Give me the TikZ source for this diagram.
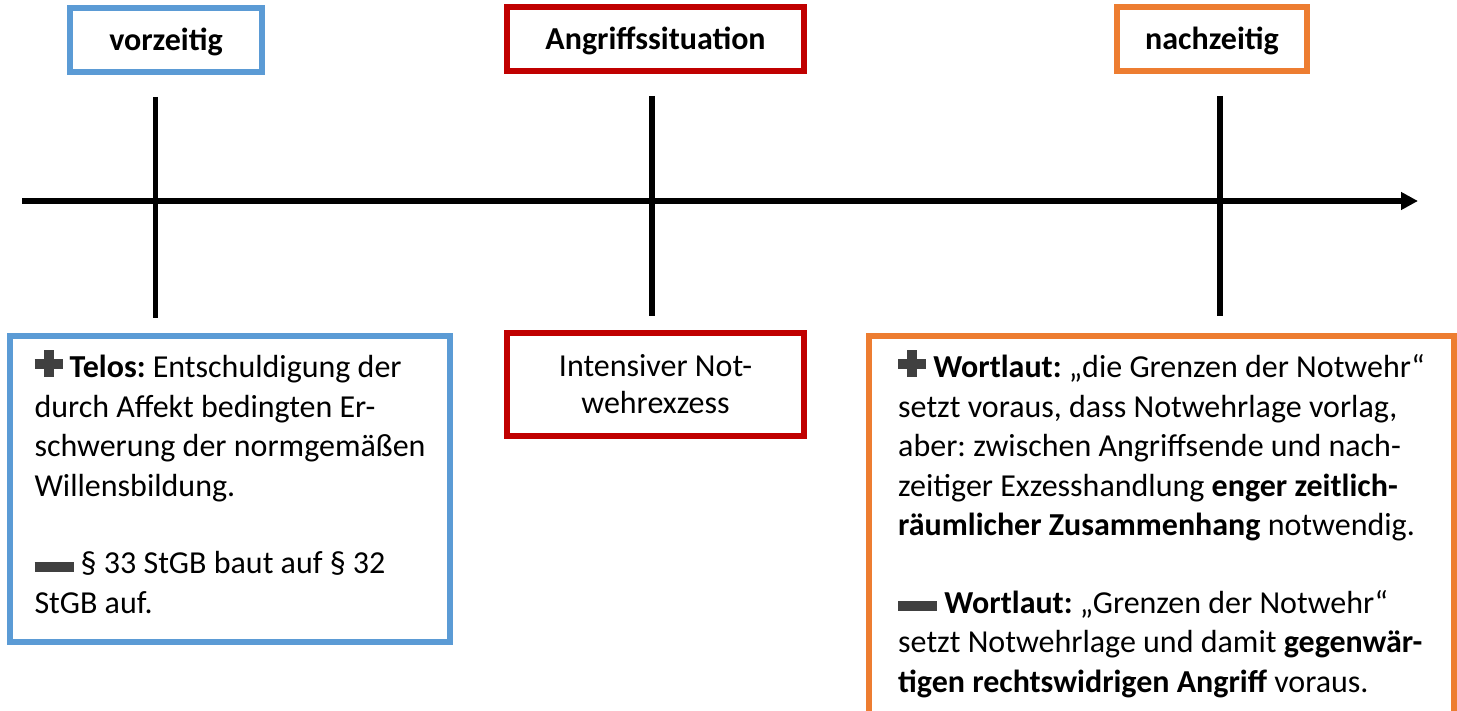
\documentclass[tikz,border=0pt]{standalone}
\usepackage{fontspec}
\setmainfont{Carlito}
\usetikzlibrary{arrows.meta}
\frenchspacing

\definecolor{vorblue}{HTML}{5B9BD5}
\definecolor{angred}{HTML}{C00000}
\definecolor{nachorange}{HTML}{ED7D31}
\definecolor{icongray}{HTML}{404040}

\newcommand{\plusicon}{\textcolor{icongray}{\rlap{\rule[4.5pt]{14pt}{5pt}}\hspace*{4.5pt}\rule[0.5pt]{5pt}{13.5pt}\hspace*{4.5pt}}}
\newcommand{\minusicon}{\textcolor{icongray}{\rule[1pt]{19.5pt}{5pt}}}
\newcommand{\padbelow}[1]{\rule[-#1]{0pt}{0pt}}

\begin{document}
\begin{tikzpicture}[x=0.5pt,y=-0.5pt,
    timeline/.style={line width=2.7pt},
    headbox/.style={draw, line width=2.8pt, minimum height=32pt, text height=13pt, text depth=2.5pt,
        font=\fontsize{16}{19}\selectfont\bfseries},
    notebox/.style={draw, line width=2.8pt, anchor=north, inner ysep=7pt, align=left,
        font=\fontsize{16}{19.75}\selectfont}]
    \useasboundingbox (0,0) rectangle (1457,711);
    \clip (0,0) rectangle (1457,711);

    \coordinate (axstart) at (22,201);
    \coordinate (axend) at (1418,201);
    \draw[timeline,-{Triangle[length=8.5pt,width=8.5pt]}] (axstart) -- (axend);

    \coordinate (vortop) at (155.7,97);
    \coordinate (vorbot) at (155.7,318);
    \draw[timeline] (vortop) -- (vorbot);
    \coordinate (angtop) at (652,96);
    \coordinate (angbot) at (652,316);
    \draw[timeline] (angtop) -- (angbot);
    \coordinate (nachtop) at (1220,96);
    \coordinate (nachbot) at (1220,316);
    \draw[timeline] (nachtop) -- (nachbot);

    \node[headbox, draw=vorblue, minimum width=96pt] (vorhead) at (166,40) {vorzeitig};
    \node[headbox, draw=angred, minimum width=148.5pt] (anghead) at (655.5,39) {Angriffssituation};
    \node[headbox, draw=nachorange, minimum width=95pt] (nachhead) at (1212,39) {nachzeitig};

    \node[notebox, draw=vorblue, minimum width=220pt] (vornote) at (230,333)
        {\plusicon\ \textbf{Telos:} Entschuldigung der\\
         durch Affekt bedingten Er-\\
         schwerung der normgemäßen\\
         Willensbildung.\\[19pt]
         \minusicon\ § 33 StGB baut auf § 32\\
         StGB auf.\padbelow{7.25pt}};

    \node[notebox, draw=angred, align=center, minimum width=148.5pt, minimum height=51.5pt,
        anchor=center, font=\fontsize{16}{18.4}\selectfont] (angnote) at (655.5,384.5)
        {Intensiver Not-\\wehrexzess};

    \node[notebox, draw=nachorange, minimum width=292.5pt] (nachnote) at (1161.5,333)
        {\plusicon\ \textbf{Wortlaut:} „die Grenzen der Notwehr“\\
         setzt voraus, dass Notwehrlage vorlag,\\
         aber: zwischen Angriffsende und nach-\\
         zeitiger Exzesshandlung \textbf{enger zeitlich-}\\
         \textbf{räumlicher Zusammenhang} notwendig.\\[19pt]
         \minusicon\ \textbf{Wortlaut:} „Grenzen der Notwehr“\\
         setzt Notwehrlage und damit \textbf{gegenwär-}\\
         \textbf{tigen rechtswidrigen Angriff} voraus.\padbelow{30pt}};
\end{tikzpicture}
\end{document}
